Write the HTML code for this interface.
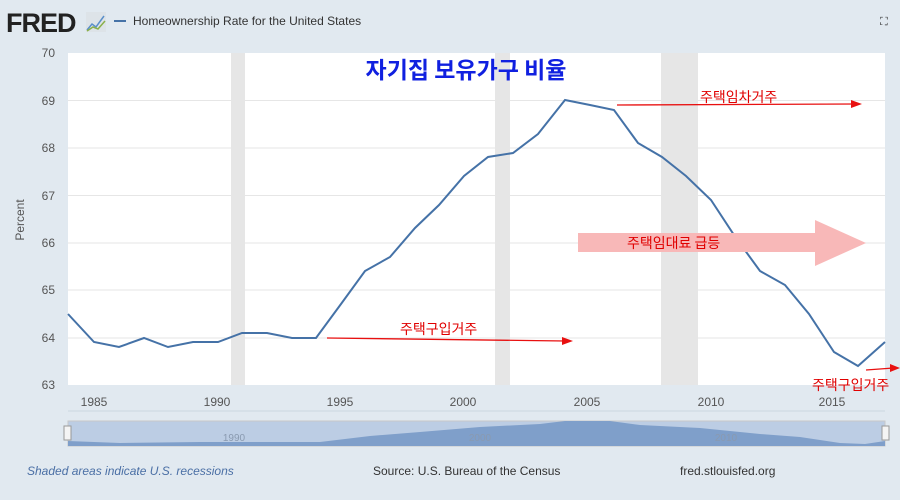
<!DOCTYPE html>
<html><head><meta charset="utf-8"><style>
body{margin:0;width:900px;height:500px;background:#e1e9f0;overflow:hidden;font-family:"Liberation Sans","Noto Sans CJK KR",sans-serif}
</style></head><body>
<svg width="900" height="500" xmlns="http://www.w3.org/2000/svg" style="position:absolute;left:0;top:0">
<rect width="900" height="500" fill="#e1e9f0"/>
<text x="6" y="32" font-size="27" font-weight="bold" fill="#222" font-family="Liberation Sans" letter-spacing="-1">FRED</text>
<rect x="86" y="12" width="20" height="20" fill="#dde3e8"/>
<polyline points="87,30 92,24 96,27 104,16" fill="none" stroke="#5a8fc9" stroke-width="1.5"/>
<polyline points="87,31 93,27 98,29 105,21" fill="none" stroke="#8ab04a" stroke-width="1.5"/>
<line x1="114" y1="21" x2="126" y2="21" stroke="#4572a7" stroke-width="2"/>
<text x="133" y="25" font-size="12" fill="#333">Homeownership Rate for the United States</text>
<text x="880" y="25" font-size="11" fill="#333">⛶</text>
<rect x="68" y="53" width="817" height="332" fill="#fff"/>
<rect x="231" y="53" width="14" height="332" fill="#e6e6e6"/>
<rect x="495" y="53" width="15" height="332" fill="#e6e6e6"/>
<rect x="661" y="53" width="37" height="332" fill="#e6e6e6"/>
<g stroke="#e6e6e6" stroke-width="1">
<line x1="68" y1="100.5" x2="885" y2="100.5"/><line x1="68" y1="148" x2="885" y2="148"/><line x1="68" y1="195.5" x2="885" y2="195.5"/><line x1="68" y1="243" x2="885" y2="243"/><line x1="68" y1="290" x2="885" y2="290"/><line x1="68" y1="338" x2="885" y2="338"/>
</g>
<g font-size="12" fill="#555" text-anchor="end">
<text x="55" y="57">70</text><text x="55" y="105">69</text><text x="55" y="152">68</text><text x="55" y="200">67</text><text x="55" y="247">66</text><text x="55" y="294">65</text><text x="55" y="342">64</text><text x="55" y="389">63</text>
</g>
<text transform="translate(24,220) rotate(-90)" font-size="12" fill="#555" text-anchor="middle">Percent</text>
<g font-size="12" fill="#555" text-anchor="middle">
<text x="94" y="406">1985</text><text x="217" y="406">1990</text><text x="340" y="406">1995</text><text x="463" y="406">2000</text><text x="587" y="406">2005</text><text x="711" y="406">2010</text><text x="832" y="406">2015</text>
</g>
<line x1="68" y1="411" x2="885" y2="411" stroke="#ccd6e0"/>
<polyline fill="none" stroke="#4572a7" stroke-width="2" points="68,314 94,342 119,347 144,338 168,347 193,342 218,342 242,333 267,333 292,338 316,338 341,304 365,271 390,257 415,228 439,205 464,176 488,157 513,153 538,134 565,100 590,105 614,110 638,143 662,157 686,176 711,200 736,238 760,271 785,285 809,314 834,352 858,366 885,342"/>
<rect x="68" y="421" width="817" height="25" fill="#bccde4" stroke="#c8c8c8"/>
<path d="M68,441 L120,443 L200,442 L320,442 L370,436 L420,432 L480,427 L540,424 L565,421 L610,421 L640,425 L700,428 L760,434 L800,437 L840,443 L865,444 L885,441 L885,446 L68,446Z" fill="#7f9fca"/>
<rect x="64" y="426" width="7" height="14" fill="#f4f4f4" stroke="#999"/>
<rect x="882" y="426" width="7" height="14" fill="#f4f4f4" stroke="#999"/>
<g font-size="10" fill="#8a9ab0" text-anchor="middle"><text x="234" y="441">1990</text><text x="480" y="441">2000</text><text x="726" y="441">2010</text></g>
<text x="27" y="475" font-size="12" font-style="italic" fill="#4a6fa5">Shaded areas indicate U.S. recessions</text>
<text x="373" y="475" font-size="12" fill="#333">Source: U.S. Bureau of the Census</text>
<text x="680" y="475" font-size="12" fill="#333">fred.stlouisfed.org</text>
<text x="466" y="78" font-size="23" font-weight="bold" fill="#1020e0" text-anchor="middle" font-family="Noto Sans CJK KR,sans-serif">자기집 보유가구 비율</text>
<g stroke="#e81010" stroke-width="1.3" fill="#e81010">
<line x1="617" y1="105" x2="855" y2="104"/><polygon points="862,104 851,100 851,108" stroke="none"/>
<line x1="327" y1="338" x2="565" y2="341"/><polygon points="573,341 562,337 562,345" stroke="none"/>
<line x1="866" y1="370" x2="893" y2="368"/><polygon points="900,368 890,364 890,372" stroke="none"/>
</g>
<polygon points="578,233 815,233 815,220 866,243 815,266 815,252 578,252" fill="#f8b8b8"/>
<g font-size="14" fill="#e00000" font-family="Noto Sans CJK KR,sans-serif">
<text x="700" y="102">주택임차거주</text>
<text x="627" y="248">주택임대료 급등</text>
<text x="400" y="334">주택구입거주</text>
<text x="812" y="390">주택구입거주</text>
</g>
</svg>
</body></html>
